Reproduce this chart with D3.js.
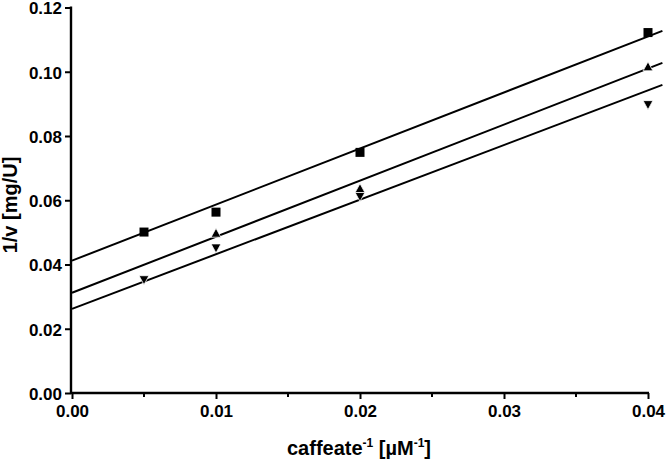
<!DOCTYPE html>
<html>
<head>
<meta charset="utf-8">
<script src="https://cdn.jsdelivr.net/npm/d3@7"></script>
<style>
  html, body { margin: 0; padding: 0; background: #fff; }
  svg { display: block; }
  text { font-family: "Liberation Sans", Arial, Helvetica, sans-serif; font-weight: bold; fill: #000; }
</style>
</head>
<body>
<svg id="chart" width="666" height="461"></svg>
<script>
// ---- data ----
const xTicks = [0.00, 0.01, 0.02, 0.03, 0.04];
const xMinorTicks = [0.005, 0.015, 0.025, 0.035];
const yTicks = [0.00, 0.02, 0.04, 0.06, 0.08, 0.10, 0.12];

const squareX = [0.005, 0.01, 0.02, 0.04];
const squareY = [0.0501, 0.0563, 0.0749, 0.1122];

const upX = [0.01, 0.02, 0.04];
const upY = [0.0498, 0.0637, 0.1016];

const downX = [0.005, 0.01, 0.02, 0.04];
const downY = [0.0352, 0.0451, 0.0611, 0.0897];

// fitted lines (intercept, slope) for square, up-triangle, down-triangle
const fitIntercepts = [0.0412, 0.0312, 0.0262];
const fitSlopes = [1.745, 1.745, 1.700];
const fitRange = [0, 0.041];

// ---- layout ----
const svg = d3.select("#chart");
const x = d3.scaleLinear().domain([0, 0.04]).range([72, 648]);
const y = d3.scaleLinear().domain([0, 0.12]).range([393, 7.5]);

// fitted lines
const lineGen = d3.line().x(d => x(d[0])).y(d => y(d[1]));
fitIntercepts.forEach((b, i) => {
  const pts = fitRange.map(v => [v, b + fitSlopes[i] * v]);
  svg.append("path").attr("d", lineGen(pts))
    .attr("fill", "none").attr("stroke", "#000").attr("stroke-width", 2);
});

// markers
const sq = 9;
svg.append("g").selectAll("rect").data(squareX.map((v, i) => [v, squareY[i]]))
  .join("rect")
  .attr("x", d => x(d[0]) - sq / 2).attr("y", d => y(d[1]) - sq / 2)
  .attr("width", sq).attr("height", sq).attr("fill", "#000");

const upPath = "M0,-4.8L4.9,4.2L-4.9,4.2Z";
const downPath = "M0,4.8L4.9,-4.2L-4.9,-4.2Z";
svg.append("g").selectAll("path").data(upX.map((v, i) => [v, upY[i]]))
  .join("path").attr("d", upPath)
  .attr("transform", d => `translate(${x(d[0])},${y(d[1])})`)
  .attr("fill", "#000").attr("stroke", "#fff").attr("stroke-width", 0.8);
svg.append("g").selectAll("path").data(downX.map((v, i) => [v, downY[i]]))
  .join("path").attr("d", downPath)
  .attr("transform", d => `translate(${x(d[0])},${y(d[1])})`)
  .attr("fill", "#000").attr("stroke", "#fff").attr("stroke-width", 0.8);

// axes
const xAxis = d3.axisBottom(x).tickValues(xTicks).tickFormat(d3.format(".2f"))
  .tickSize(6).tickPadding(6);
const gx = svg.append("g").attr("transform", "translate(0,393)").call(xAxis);
gx.select(".domain").remove();
gx.selectAll(".tick line").attr("stroke", "#000").attr("stroke-width", 2);
gx.selectAll("text").attr("font-size", 17).attr("font-family", null);
gx.append("line").attr("x1", 71).attr("x2", 649).attr("y1", 0).attr("y2", 0)
  .attr("stroke", "#000").attr("stroke-width", 2.4);
gx.selectAll(".minor").data(xMinorTicks).join("line")
  .attr("x1", d => x(d)).attr("x2", d => x(d)).attr("y1", 0).attr("y2", 4)
  .attr("stroke", "#000").attr("stroke-width", 2);

const yAxis = d3.axisLeft(y).tickValues(yTicks).tickFormat(d3.format(".2f"))
  .tickSize(6).tickPadding(3);
const gy = svg.append("g").attr("transform", "translate(71,0)").call(yAxis);
gy.select(".domain").remove();
gy.selectAll(".tick line").attr("stroke", "#000").attr("stroke-width", 2);
gy.selectAll("text").attr("font-size", 17).attr("font-family", null).attr("dy", "0.38em");
gy.append("line").attr("x1", 0).attr("x2", 0).attr("y1", 6.5).attr("y2", 394)
  .attr("stroke", "#000").attr("stroke-width", 2.4);

// axis titles
const xt = svg.append("text").attr("x", 359).attr("y", 455)
  .attr("text-anchor", "middle").attr("font-size", 20);
xt.append("tspan").text("caffeate");
xt.append("tspan").text("-1").attr("font-size", 12).attr("dy", -8);
xt.append("tspan").text(" [µM").attr("dy", 8);
xt.append("tspan").text("-1").attr("font-size", 12).attr("dy", -8);
xt.append("tspan").text("]").attr("dy", 8);

svg.append("text").attr("transform", "translate(17,205) rotate(-90)")
  .attr("text-anchor", "middle").attr("font-size", 20).text("1/v [mg/U]");
</script>
</body>
</html>
